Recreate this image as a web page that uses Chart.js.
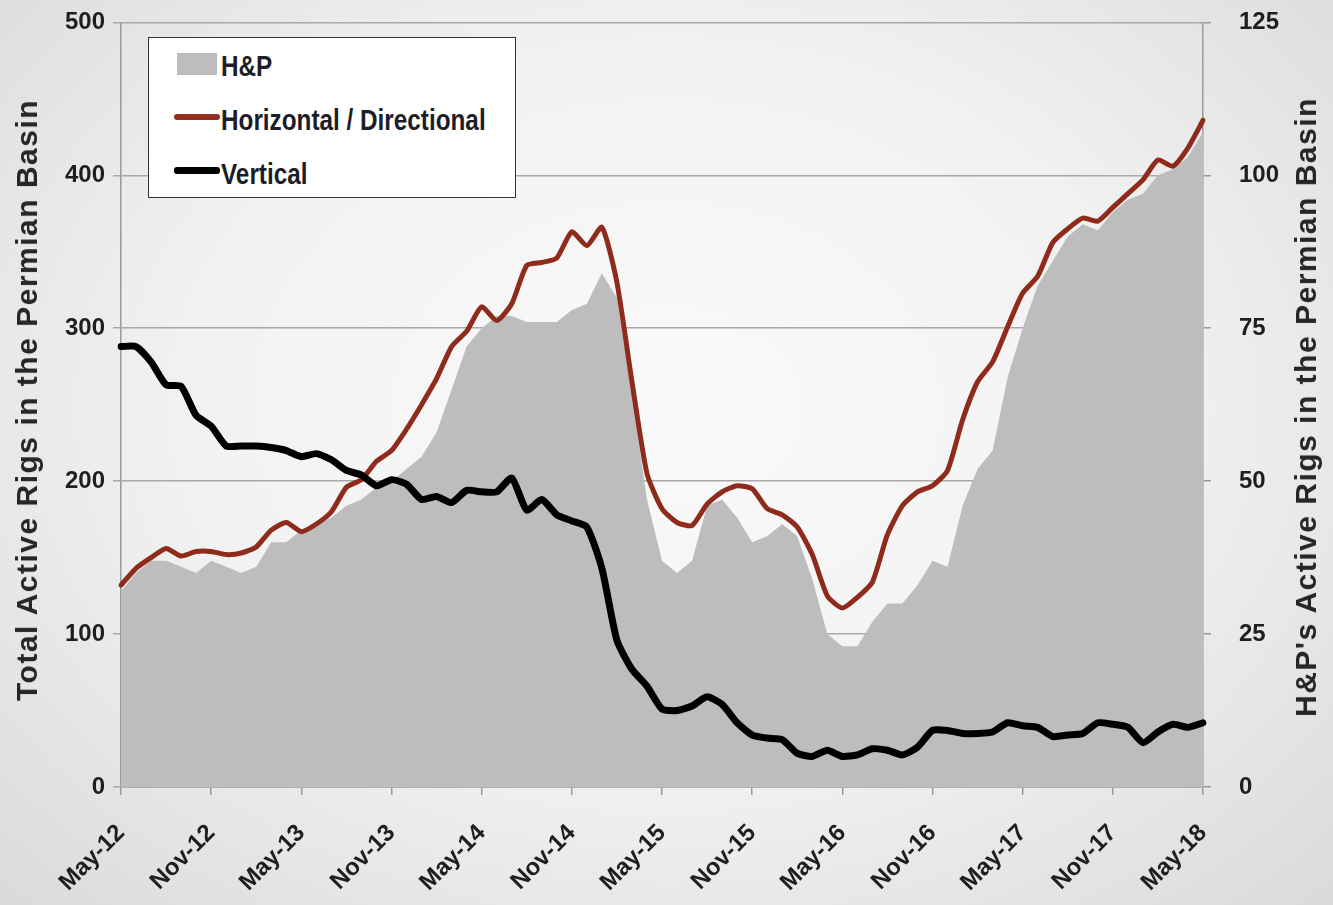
<!DOCTYPE html>
<html>
<head>
<meta charset="utf-8">
<title>Permian Basin Rigs</title>
<script src="https://cdn.jsdelivr.net/npm/chart.js@4.4.1/dist/chart.umd.min.js"></script>
<style>
  html, body { margin: 0; padding: 0; }
  body {
    width: 1333px; height: 905px; overflow: hidden;
    background: radial-gradient(ellipse at 50% 45%, #fafafa 0%, #f2f2f2 50%, #dadada 100%);
    font-family: 'Liberation Sans', Arial, sans-serif;
  }
  #wrap { position: relative; width: 1333px; height: 905px; overflow: hidden; }
  #chartBox { position: absolute; left: 0; top: -20px; width: 1333px; height: 925px; }
  .axis-title {
    position: absolute; white-space: nowrap;
    font-weight: bold; font-size: 30px; letter-spacing: 1.5px; color: #262626;
    transform: translate(-50%, -50%) rotate(-90deg);
  }
  #legend {
    position: absolute; left: 148px; top: 37px; width: 366px; height: 159px;
    border: 1.5px solid #333; background: #fff;
  }
  .mark { position: absolute; }
  .txt {
    position: absolute; left: 72px; white-space: nowrap; line-height: 30px;
    font: bold 30px 'Liberation Sans', Arial, sans-serif;
    color: #1d1d28;
    transform: scaleX(0.81); transform-origin: 0 50%;
  }
</style>
</head>
<body>
<div id="wrap">
  <div id="chartBox"><canvas id="rigChart"></canvas></div>
  <div class="axis-title" style="left:27px; top:400px;">Total Active Rigs in the Permian Basin</div>
  <div class="axis-title" style="left:1306px; top:407px;">H&amp;P's Active Rigs in the Permian Basin</div>
  <div id="legend">
    <div class="mark" style="left:28px; top:15px; width:40px; height:22px; background:#bdbdbd;"></div>
    <div class="txt" style="top:11px;">H&amp;P</div>
    <div class="mark" style="left:25px; top:76px; width:46px; height:6px; border-radius:3px; background:#93301f;"></div>
    <div class="txt" style="top:65px;">Horizontal / Directional</div>
    <div class="mark" style="left:25px; top:129px; width:46px; height:7px; border-radius:3px; background:#000;"></div>
    <div class="txt" style="top:119px;">Vertical</div>
  </div>
</div>

<script>
/* =========================
   DATA
 ========================= */
const months = [
  'May-12', 'Jun-12', 'Jul-12', 'Aug-12', 'Sep-12', 'Oct-12', 'Nov-12', 'Dec-12',
  'Jan-13', 'Feb-13', 'Mar-13', 'Apr-13', 'May-13', 'Jun-13', 'Jul-13', 'Aug-13', 'Sep-13', 'Oct-13', 'Nov-13', 'Dec-13',
  'Jan-14', 'Feb-14', 'Mar-14', 'Apr-14', 'May-14', 'Jun-14', 'Jul-14', 'Aug-14', 'Sep-14', 'Oct-14', 'Nov-14', 'Dec-14',
  'Jan-15', 'Feb-15', 'Mar-15', 'Apr-15', 'May-15', 'Jun-15', 'Jul-15', 'Aug-15', 'Sep-15', 'Oct-15', 'Nov-15', 'Dec-15',
  'Jan-16', 'Feb-16', 'Mar-16', 'Apr-16', 'May-16', 'Jun-16', 'Jul-16', 'Aug-16', 'Sep-16', 'Oct-16', 'Nov-16', 'Dec-16',
  'Jan-17', 'Feb-17', 'Mar-17', 'Apr-17', 'May-17', 'Jun-17', 'Jul-17', 'Aug-17', 'Sep-17', 'Oct-17', 'Nov-17', 'Dec-17',
  'Jan-18', 'Feb-18', 'Mar-18', 'Apr-18', 'May-18'
];

// tick labels shown on the x axis
const xTickLabels = ['May-12', 'Nov-12', 'May-13', 'Nov-13', 'May-14', 'Nov-14', 'May-15',
  'Nov-15', 'May-16', 'Nov-16', 'May-17', 'Nov-17', 'May-18'];
const leftTicks = [0, 100, 200, 300, 400, 500];
const rightTicks = [0, 25, 50, 75, 100, 125];

// H&P rigs (right axis)
const hpRigs = [
  32, 35, 37, 37, 36, 35, 37, 36, 35, 36,
  40, 40, 42, 43, 44, 46, 47, 49, 50, 52,
  54, 58, 65, 72, 75, 77, 77, 76, 76, 76,
  78, 79, 84, 80, 64, 47, 37, 35, 37, 46,
  47, 44, 40, 41, 43, 41, 34, 25, 23, 23,
  27, 30, 30, 33, 37, 36, 46, 52, 55, 67,
  75, 82, 86, 90, 92, 91, 94, 96, 97, 100,
  101, 103, 107
];

// total rigs, horizontal / directional (left axis)
const horizontal = [
  132, 143, 150, 156, 151, 154, 154, 152, 153, 157,
  168, 173, 167, 172, 180, 196, 201, 213, 220, 234,
  250, 267, 288, 298, 314, 305, 316, 341, 343, 346,
  363, 354, 366, 330, 265, 205, 182, 173, 171, 185,
  193, 197, 195, 182, 178, 170, 152, 125, 117, 124,
  134, 165, 184, 193, 197, 207, 240, 265, 278, 301,
  323, 334, 356, 365, 372, 370, 379, 388, 397, 410,
  406, 418, 436
];

// total rigs, vertical (left axis)
const vertical = [
  288, 288, 278, 263, 262, 243, 236, 223, 223, 223,
  222, 220, 216, 218, 214, 207, 204, 197, 201, 198,
  188, 190, 186, 194, 193, 193, 202, 181, 188, 178,
  174, 170, 143, 96, 77, 66, 51, 50, 53, 59,
  54, 42, 34, 32, 31, 22, 20, 24, 20, 21,
  25, 24, 21, 26, 37, 37, 35, 35, 36, 42,
  40, 39, 33, 34, 35, 42, 41, 39, 29, 36,
  41, 39, 42
];

/* =========================
   CHART
 ========================= */
Chart.defaults.font.family = "'Liberation Sans', Arial, sans-serif";
Chart.defaults.font.weight = 'bold';
Chart.defaults.font.size = 24;
Chart.defaults.color = '#1e1e1e';

const axisGray = '#9a9a9a';

new Chart(document.getElementById('rigChart'), {
  type: 'line',
  data: {
    labels: months,
    datasets: [
      {
        label: 'H&P',
        data: hpRigs,
        yAxisID: 'y1',
        fill: 'origin',
        backgroundColor: '#bdbdbd',
        borderWidth: 0,
        pointRadius: 0,
        tension: 0,
        order: 3
      },
      {
        label: 'Horizontal / Directional',
        data: horizontal,
        yAxisID: 'y',
        borderColor: '#8f2b1b',
        borderWidth: 5,
        borderJoinStyle: 'round',
        borderCapStyle: 'round',
        pointRadius: 0,
        tension: 0.2,
        fill: false,
        order: 2
      },
      {
        label: 'Vertical',
        data: vertical,
        yAxisID: 'y',
        borderColor: '#000000',
        borderWidth: 7,
        borderJoinStyle: 'round',
        borderCapStyle: 'round',
        pointRadius: 0,
        tension: 0.2,
        fill: false,
        order: 1
      }
    ]
  },
  options: {
    responsive: true,
    maintainAspectRatio: false,
    animation: false,
    layout: { padding: { top: 2, left: 0, right: 0, bottom: 0 } },
    plugins: {
      legend: { display: false },
      tooltip: { enabled: false }
    },
    scales: {
      x: {
        afterFit: s => { s.height = 118; },
        grid: { display: true, drawOnChartArea: false, tickLength: 8, color: axisGray, lineWidth: 1.5 },
        border: { display: true, color: axisGray, width: 1.5 },
        ticks: {
          autoSkip: false,
          minRotation: 45,
          maxRotation: 45,
          padding: 24,
          callback: (v, i) => (xTickLabels.includes(months[i]) ? months[i] : null)
        }
      },
      y: {
        position: 'left',
        min: leftTicks[0],
        max: leftTicks[leftTicks.length - 1],
        afterFit: s => { s.width = 121; },
        grid: { color: '#a8a8a8', lineWidth: 1.5, tickLength: 8 },
        border: { display: true, color: axisGray, width: 1.5 },
        ticks: { stepSize: leftTicks[1] - leftTicks[0], padding: 8 }
      },
      y1: {
        position: 'right',
        min: rightTicks[0],
        max: rightTicks[rightTicks.length - 1],
        afterFit: s => { s.width = 130; },
        grid: { drawOnChartArea: false, color: axisGray, lineWidth: 1.5, tickLength: 8 },
        border: { display: true, color: axisGray, width: 1.5 },
        ticks: { stepSize: rightTicks[1] - rightTicks[0], padding: 28 }
      }
    }
  }
});
</script>
</body>
</html>
